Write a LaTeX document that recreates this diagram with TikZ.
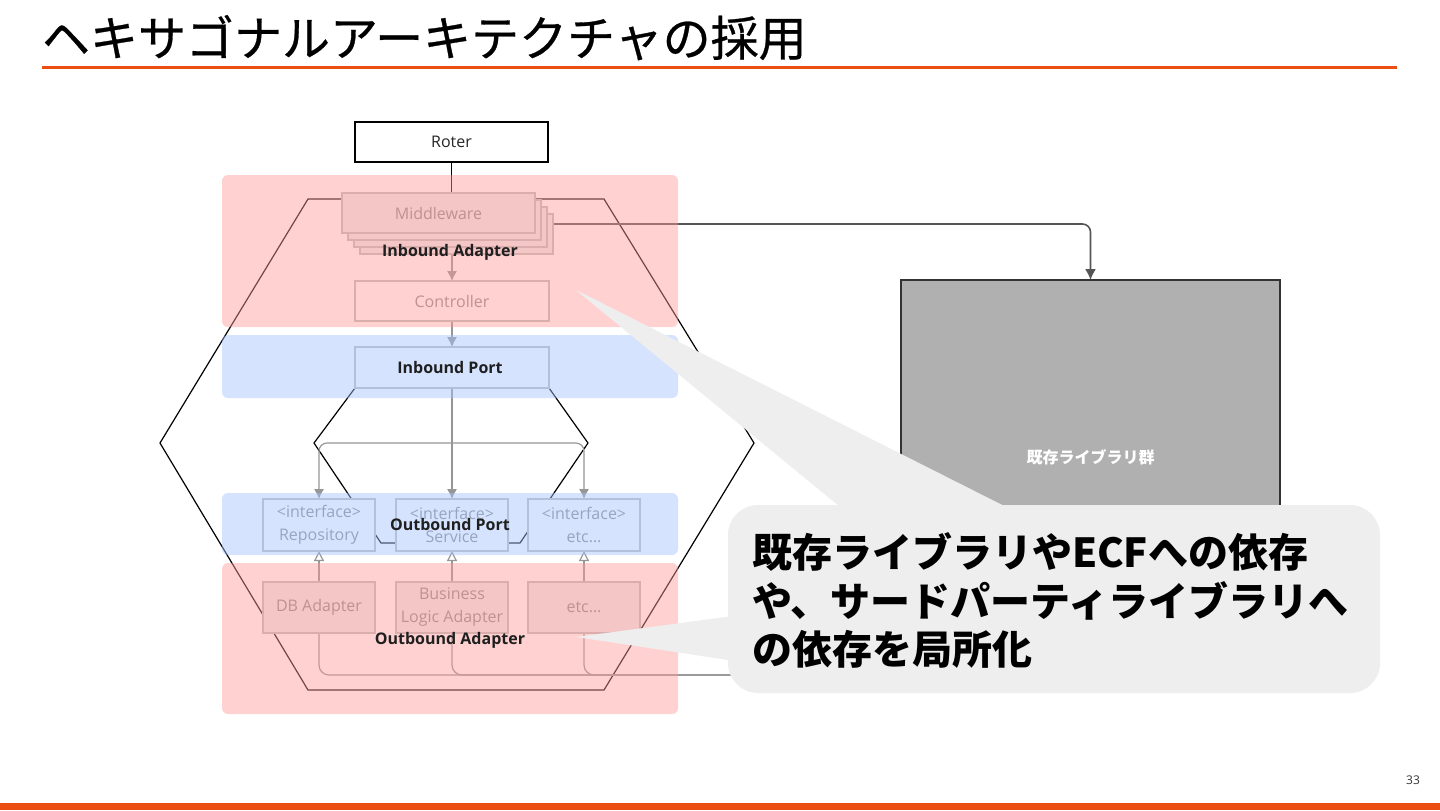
\documentclass[tikz,border=0pt]{standalone}
\usepackage{fontspec}
\setmainfont{Open Sans}
\newfontfamily\jpfont{Noto Sans CJK JP}
\newfontfamily\jptitle[FakeBold=0.6]{Noto Sans CJK JP}
\usetikzlibrary{arrows.meta,calc}
\definecolor{accent}{RGB}{236,78,18}
\definecolor{pinkov}{RGB}{255,155,155}
\definecolor{blueov}{RGB}{164,195,255}
\definecolor{boxline}{RGB}{190,190,190}
\definecolor{boxtext}{RGB}{140,140,140}
\definecolor{boxfill}{RGB}{235,235,235}
\definecolor{libfill}{RGB}{176,176,176}
\definecolor{callfill}{RGB}{238,238,238}
\definecolor{arrowgray}{RGB}{150,150,150}
\definecolor{darkarrow}{RGB}{85,85,85}
\pgfdeclarelayer{bgl}
\pgfdeclarelayer{hexl}
\pgfdeclarelayer{conn}
\pgfdeclarelayer{ovl}
\pgfdeclarelayer{callo}
\pgfsetlayers{bgl,hexl,conn,main,ovl,callo}
\begin{document}
\begin{tikzpicture}[x=0.5pt,y=-0.5pt,
  every node/.style={inner sep=0pt, outer sep=0pt},
  ibox/.style={draw=boxline, line width=0.6pt, fill=white, text=boxtext,
    font=\fontsize{8}{11.5}\selectfont, align=center},
  gbox/.style={ibox, fill=boxfill},
  region/.style={fill=#1, fill opacity=0.45, rounded corners=3pt},
  lbl/.style={font=\fontsize{8}{9}\selectfont\bfseries, text=black!88},
  garrow/.style={draw=arrowgray, line width=0.6pt, -{Latex[length=5pt,width=5pt]}},
  gline/.style={draw=arrowgray, line width=0.6pt},
  tri/.style={draw=arrowgray, line width=0.6pt, -{Triangle[open,length=5pt,width=5pt]}},
  hex/.style={draw=black, line width=0.6pt},
  calltext/.style={anchor=base west, font=\jpfont\bfseries\fontsize{20}{20}\selectfont, text=black},
]
\useasboundingbox (0,0) rectangle (1440,810);
\begin{pgfonlayer}{bgl}
\fill[white] (0,0) rectangle (1440,810);
\end{pgfonlayer}

% title
\node[anchor=base west, font=\jptitle\fontsize{24}{24}\selectfont, text=black] (title) at (42,56) {ヘキサゴナルアーキテクチャの採用};
\fill[accent] (42,65.5) rectangle (1397,68.5);
\fill[accent] (0,803) rectangle (1440,810);

% boxes
\node[draw=black, line width=1pt, fill=white, minimum width=96.5pt, minimum height=20pt,
  font=\fontsize{8}{9}\selectfont, text=black!85] (roter) at (451.5,142) {Roter};
\node[gbox, minimum width=96.5pt, minimum height=20pt] (mw3) at (456.5,234) {};
\node[gbox, minimum width=96.5pt, minimum height=20pt] (mw2) at (450.5,227) {};
\node[gbox, minimum width=96.5pt, minimum height=20pt] (mw1) at (444.5,220) {};
\node[gbox, minimum width=96.5pt, minimum height=20pt] (mw) at (438.5,213) {Middleware};
\node[ibox, minimum width=97pt, minimum height=20pt] (ctrl) at (452,301) {Controller};
\node[ibox, minimum width=97pt, minimum height=20.5pt] (ip) at (452,367.5) {};
\node[ibox, minimum width=56pt, minimum height=26pt] (repo) at (319,525) {<interface>\\Repository};
\node[ibox, minimum width=56pt, minimum height=26pt] (svc) at (452,525) {<interface>\\Service};
\node[ibox, minimum width=56pt, minimum height=26pt] (etcp) at (584,525) {<interface>\\etc…};
\node[gbox, minimum width=56pt, minimum height=25.5pt] (db) at (319,607.5) {DB Adapter};
\node[gbox, minimum width=56pt, minimum height=25.5pt] (bla) at (452,607.5) {Business\\Logic Adapter};
\node[gbox, minimum width=56pt, minimum height=25.5pt] (etca) at (584,607.5) {etc…};
\node[draw=black!80, line width=1pt, fill=libfill, minimum width=189.5pt, minimum height=177pt,
  font=\jpfont\bfseries\fontsize{8}{8}\selectfont, text=white] (lib) at (1090.5,457) {既存ライブラリ群};

% hexagons
\begin{pgfonlayer}{hexl}
\draw[hex] (308,199) -- (604,199) -- (754,443) -- (604,690) -- (308,690) -- (160,443) -- cycle;
\draw[hex] (ip.south west) -- (ip.south east) -- (588,443) -- (520,543) -- (381,543) -- (314,443) -- cycle;
\end{pgfonlayer}

% connectors
\begin{pgfonlayer}{conn}
\draw[black, line width=0.7pt] (roter.south) -- (roter.south |- mw.north);
\draw[garrow] (mw.south -| ctrl.north) -- (ctrl.north);
\draw[garrow] (ctrl.south) -- (ip.north);
\draw[garrow] (ip.south) -- (svc.north);
\coordinate (split) at (452,443);
\draw[garrow, rounded corners=4pt] (split) -| (repo.north);
\draw[garrow, rounded corners=4pt] (split) -| (etcp.north);
\draw[tri] (db.north) -- (repo.south);
\draw[tri] (bla.north) -- (svc.south);
\draw[tri] (etca.north) -- (etcp.south);
\coordinate (busend) at (1090.5,675);
\draw[gline, rounded corners=5pt] (db.south) |- (busend);
\draw[gline, rounded corners=5pt] (bla.south) |- (busend);
\draw[gline, rounded corners=5pt] (etca.south) |- (busend);
\draw[gline, -{Latex[length=4pt,width=4pt]}] (busend) -- (lib.south);
\draw[darkarrow, line width=0.8pt, rounded corners=4pt, -{Latex[length=5.5pt,width=5.5pt]}]
  ($(mw3.north east)+(0,10)$) -| (lib.north);
\end{pgfonlayer}

% overlays and labels
\begin{pgfonlayer}{ovl}
\fill[region=pinkov] (222,175) rectangle (678,327);
\fill[region=blueov] (222,335) rectangle (678,398);
\fill[region=blueov] (222,493) rectangle (678,555);
\fill[region=pinkov] (222,563) rectangle (678,714);
\node[lbl] (lia) at (450,252) {Inbound Adapter};
\node[lbl] (lip) at (450,367.5) {Inbound Port};
\node[lbl] (lop) at (450,524) {Outbound Port};
\node[lbl] (loa) at (450,640) {Outbound Adapter};
\end{pgfonlayer}

% callout
\begin{pgfonlayer}{callo}
\coordinate (tip1) at (576,290);
\coordinate (tip2) at (576,637);
\fill[callfill] (tip1) -- (856,520) -- (1032,520) -- cycle;
\fill[callfill] (tip2) -- (748,614) -- (748,663) -- cycle;
\node[fill=callfill, rounded corners=15pt, minimum width=326pt, minimum height=94pt] (callout) at (1054,599) {};
\node[calltext] (c1) at (752,567) {既存ライブラリやECFへの依存};
\node[calltext] (c2) at (752,616) {や、サードパーティライブラリへ};
\node[calltext] (c3) at (752,664) {の依存を局所化};
\node[font=\fontsize{6}{6}\selectfont, text=black!80] (pg) at (1413,780) {33};
\end{pgfonlayer}
\end{tikzpicture}
\end{document}
